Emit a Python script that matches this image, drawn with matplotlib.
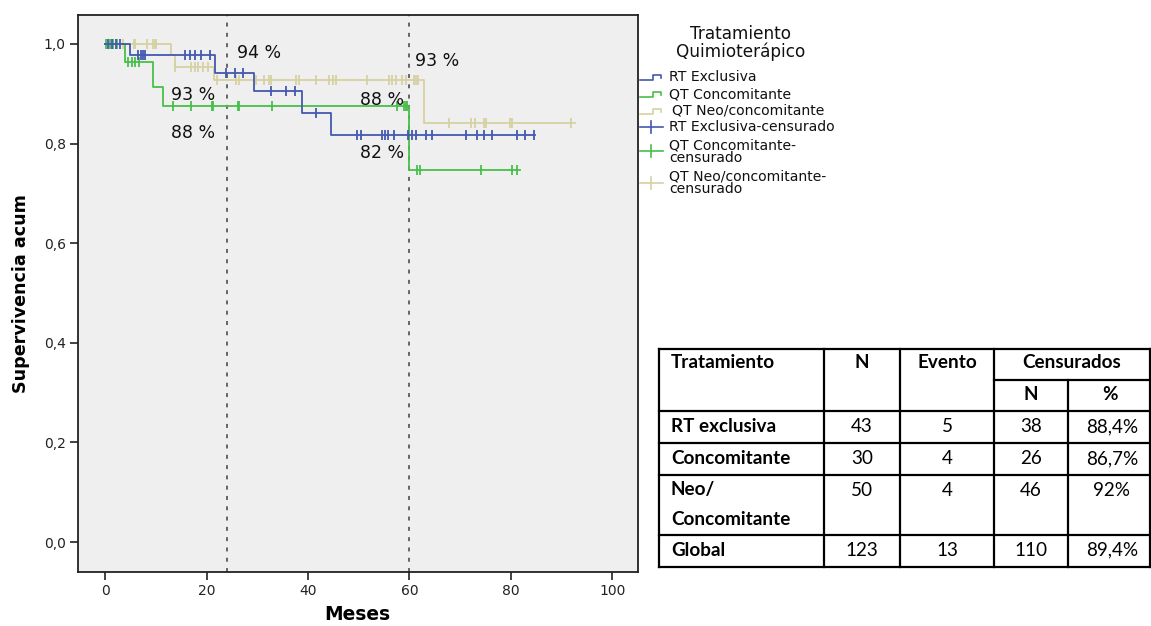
import numpy as np
import matplotlib
matplotlib.use("Agg")
import matplotlib.pyplot as plt
from matplotlib.lines import Line2D

# ---- Kaplan-Meier step data (months, cumulative survival) ----
rt_event_times = [5.0, 21.6, 29.3, 38.8, 44.5]
rt_levels = [1.0, 0.977, 0.942, 0.905, 0.862, 0.817]
rt_end = 84.8
rt_censored = [0.5, 1.3, 2.2, 2.9, 6.5, 7.0, 7.4, 7.9, 15.7, 16.7, 17.7, 19.0, 20.6,
               23.8, 25.6, 27.1, 32.7, 35.6, 37.5, 41.5, 49.6, 50.4, 54.7, 55.2, 55.7,
               57.0, 59.8, 60.6, 61.3, 63.3, 64.5, 71.1, 73.4, 74.7, 76.3, 81.2, 82.8, 84.5]

qt_event_times = [4.0, 9.5, 11.4, 60.0]
qt_levels = [1.0, 0.963, 0.914, 0.876, 0.746]
qt_end = 81.9
qt_censored = [0.2, 0.9, 1.6, 2.4, 4.5, 5.3, 5.9, 6.6, 13.4, 16.9, 21.1, 21.3, 26.2, 26.5,
               32.9, 57.6, 59.0, 59.3, 59.6, 61.6, 62.2, 74.2, 80.2, 81.2]

neo_event_times = [13.0, 13.7, 21.4, 62.9]
neo_levels = [1.0, 0.978, 0.954, 0.928, 0.842]
neo_end = 92.7
neo_censored = [3.6, 5.6, 5.9, 8.2, 9.5, 9.8, 10.1, 13.8, 17.0, 17.7, 18.3, 19.3, 20.3,
                22.1, 25.9, 26.4, 29.8, 31.4, 32.3, 32.7, 37.6, 38.3, 41.6, 44.2, 44.9,
                45.5, 51.7, 55.9, 56.6, 57.3, 58.6, 59.3, 60.9, 61.3, 61.7, 67.8, 72.2,
                72.9, 74.7, 75.1, 79.9, 80.2, 91.9]

group_names = ["RT Exclusiva", "QT Concomitante", " QT Neo/concomitante"]
censored_names = ["RT Exclusiva-censurado", "QT Concomitante-\ncensurado",
                  "QT Neo/concomitante-\ncensurado"]
colors = ["#4459b0", "#48bf48", "#d6d1a2"]

# reference time points and the survival labels read there
ref_months = [24, 60]
annotations = [("94 %", 30.4, 0.982), ("93 %", 17.4, 0.898), ("88 %", 17.4, 0.821),
               ("93 %", 65.5, 0.966), ("88 %", 54.6, 0.888), ("82 %", 54.6, 0.782)]

# ---- summary table ----
table_header = ["Tratamiento", "N", "Evento", "Censurados"]
table_subheader = ["N", "%"]
table_rows = [["RT exclusiva", "43", "5", "38", "88,4%"],
              ["Concomitante", "30", "4", "26", "86,7%"],
              ["Neo/\nConcomitante", "50", "4", "46", "92%"],
              ["Global", "123", "13", "110", "89,4%"]]

W, H = 1151, 626
fig = plt.figure(figsize=(W / 100, H / 100), dpi=100)
fig.patch.set_facecolor("white")

ax_l, ax_r, ax_t, ax_b = 77.5, 638, 15, 572
ax = fig.add_axes([ax_l / W, 1 - ax_b / H, (ax_r - ax_l) / W, (ax_b - ax_t) / H])
ax.set_facecolor("#efefef")
ax.set_xlim(-5.45, 105.1)
ax.set_ylim(-0.060, 1.058)


def surv_at(times, levels, t):
    idx = np.searchsorted(np.asarray(times), t, side="right")
    return levels[idx]


groups = [(rt_event_times, rt_levels, rt_end, rt_censored),
          (qt_event_times, qt_levels, qt_end, qt_censored),
          (neo_event_times, neo_levels, neo_end, neo_censored)]

# draw in order tan, green, blue so blue sits on top
for gi in [2, 1, 0]:
    times, levels, end, cens = groups[gi]
    xs = [0.0] + list(times) + [end]
    ys = list(levels) + [levels[-1]]
    ax.step(xs, ys, where="post", color=colors[gi], lw=1.3, zorder=3 + (2 - gi))
    cy = [surv_at(times, levels, c) for c in cens]
    ax.plot(cens, cy, ls="none", marker="|", ms=7, mew=1.3, color=colors[gi],
            zorder=3 + (2 - gi))

for m in ref_months:
    ax.axvline(m, color="#5a5a5a", lw=1.3, ls=(0, (2.2, 3.5)), zorder=2)

for txt, x, y in annotations:
    ax.text(x, y, txt, fontsize=12.5, ha="center", va="center", color="#111111",
            zorder=6)

ax.set_xticks([0, 20, 40, 60, 80, 100])
ax.set_yticks([0.0, 0.2, 0.4, 0.6, 0.8, 1.0])
ax.set_yticklabels(["0,0", "0,2", "0,4", "0,6", "0,8", "1,0"])
ax.tick_params(axis="both", direction="out", length=6, width=1.2, labelsize=10,
               colors="#222222", pad=2.5, top=False, right=False)
for s in ax.spines.values():
    s.set_color("#222222")
    s.set_linewidth(1.3)
ax.set_xlabel("Meses", fontsize=13.4, fontweight="bold", labelpad=5)
ax.set_ylabel("Supervivencia acum", fontsize=12.6, fontweight="bold", labelpad=10)

# ---- overlay axes in pixel coordinates for legend and table ----
ov = fig.add_axes([0, 0, 1, 1], facecolor="none")
ov.set_xlim(0, W)
ov.set_ylim(H, 0)
ov.axis("off")

# legend
ov.text(741, 43, "Tratamiento\nQuimioterápico", ha="center", va="center",
        fontsize=12.2, linespacing=1.0, color="#111111")
step_y = [77, 94, 111]
for i in range(3):
    y = step_y[i]
    ov.add_line(Line2D([640, 653, 653, 661, 661], [y + 3, y + 3, y - 2, y - 2, y + 1],
                       color=colors[i], lw=1.2))
    ov.text(669 if i < 2 else 672, y, group_names[i].strip(), ha="left", va="center",
            fontsize=10.1, color="#111111")
cens_y = [127, 151, 183]
cens_text_y = [127, 151.5, 182.5]
for i in range(3):
    y = cens_y[i]
    ov.add_line(Line2D([640, 663], [y, y], color=colors[i], lw=1.2))
    ov.add_line(Line2D([651, 651], [y - 6, y + 6], color=colors[i], lw=1.2))
    ov.text(669, cens_text_y[i], censored_names[i], ha="left", va="center",
            fontsize=10.1, linespacing=0.9, color="#111111")

# table
tf = "Lato"
fs_t = 13.6
col_x = [659, 824, 900, 994, 1068, 1150]
row_y = [349, 410.5, 442.5, 474.5, 534.5, 566.5]
lw_t = 1.6
for y in row_y:
    ov.add_line(Line2D([col_x[0], col_x[-1]], [y, y], color="black", lw=lw_t))
ov.add_line(Line2D([col_x[3], col_x[-1]], [379.5, 379.5], color="black", lw=lw_t))
for i, x in enumerate(col_x):
    if i == 4:
        ov.add_line(Line2D([x, x], [379.5, row_y[-1]], color="black", lw=lw_t))
    else:
        ov.add_line(Line2D([x, x], [row_y[0], row_y[-1]], color="black", lw=lw_t))

hdr_y = 363
ov.text(671, hdr_y, table_header[0], ha="left", va="center", fontsize=fs_t,
        fontweight="bold", family=tf)
ov.text(862, hdr_y, table_header[1], ha="center", va="center", fontsize=fs_t,
        fontweight="bold", family=tf)
ov.text(947, hdr_y, table_header[2], ha="center", va="center", fontsize=fs_t,
        fontweight="bold", family=tf)
ov.text(1072, hdr_y, table_header[3], ha="center", va="center", fontsize=fs_t,
        fontweight="bold", family=tf)
ov.text(1031, 394, table_subheader[0], ha="center", va="center", fontsize=fs_t,
        fontweight="bold", family=tf)
ov.text(1110, 394, table_subheader[1], ha="center", va="center", fontsize=fs_t,
        fontweight="bold", family=tf)

row_text_y = [426.5, 458.5, 490, 550]
num_x = [862, 947, 1031, 1112]
for r, row in enumerate(table_rows):
    y = row_text_y[r]
    if "\n" in row[0]:
        a, b = row[0].split("\n")
        ov.text(671, y, a, ha="left", va="center", fontsize=fs_t, fontweight="bold",
                family=tf)
        ov.text(671, 519.5, b, ha="left", va="center", fontsize=fs_t,
                fontweight="bold", family=tf)
    else:
        ov.text(671, y, row[0], ha="left", va="center", fontsize=fs_t,
                fontweight="bold", family=tf)
    for c in range(4):
        ov.text(num_x[c], y, row[c + 1], ha="center", va="center", fontsize=fs_t,
                family=tf)

fig.savefig("out.png", dpi=100)
